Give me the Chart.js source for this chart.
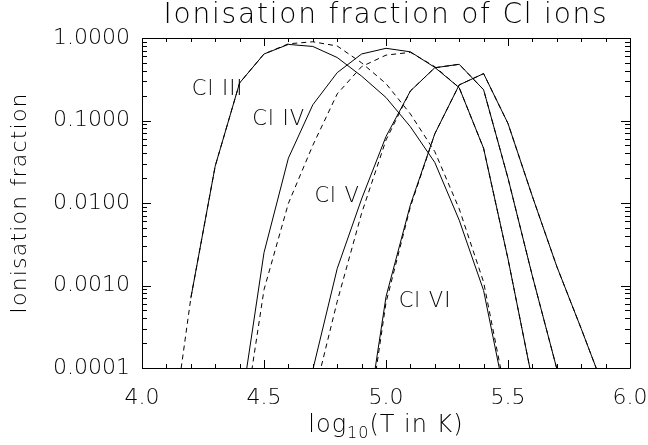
<!DOCTYPE html>
<html>
<head>
<meta charset="utf-8">
<title>Ionisation fraction of Cl ions</title>
<script src="https://cdn.jsdelivr.net/npm/chart.js@4.4.1/dist/chart.umd.min.js"></script>
<style>
  html, body { margin: 0; padding: 0; background: #fff; }
  canvas { display: block; }
</style>
</head>
<body>
<canvas id="ionChart" width="648" height="445"></canvas>
<script>
// Temperature grid (log10 T)
const logT = [4.0, 4.1, 4.2, 4.3, 4.4, 4.5, 4.6, 4.7, 4.8, 4.9, 5.0,
              5.1, 5.2, 5.3, 5.4, 5.5, 5.6, 5.7, 5.8, 5.9, 6.0];

// Solid curves
const cl3Solid = [null, null, 7.0e-4, 0.028, 0.285, 0.64, 0.836, 0.79, 0.58, 0.345, 0.19,
                  0.084, 0.031, 0.0062, 8.7e-4, 3e-5, null, null, null, null, null];
const cl4Solid = [null, null, null, null, 2.6e-5, 0.0025, 0.035, 0.155, 0.38, 0.64, 0.75,
                  0.68, 0.44, 0.25, 0.046, 0.0021, 7e-5, null, null, null, null];
const cl5Solid = [null, null, null, null, null, null, null, 9.5e-5, 0.0016, 0.0112, 0.064,
                  0.228, 0.436, 0.48, 0.236, 0.020, 0.0013, 9.8e-5, null, null, null];
const cl6Solid = [null, null, null, null, null, null, null, null, null, 8e-6, 7.3e-4,
                  0.0095, 0.069, 0.27, 0.37, 0.092, 0.012, 0.0017, 3e-4, 5e-5, null];

// Dashed curves
const cl3Dashed = [null, 5e-6, 7.0e-4, 0.028, 0.285, 0.64, 0.85, 0.90, 0.80, 0.50, 0.28,
                   0.12, 0.042, 0.0085, 0.0011, 3.5e-5, null, null, null, null, null];
const cl4Dashed = [null, null, null, null, 1e-5, 8.9e-4, 0.0099, 0.05, 0.21, 0.45, 0.62,
                   0.67, 0.45, 0.25, 0.046, 0.0021, 7e-5, null, null, null, null];
const cl5Dashed = [null, null, null, null, null, null, null, 4e-5, 6.4e-4, 0.0075, 0.058,
                   0.228, 0.436, 0.48, 0.236, 0.020, 0.0013, 9.8e-5, null, null, null];
const cl6Dashed = [null, null, null, null, null, null, null, null, null, 6e-6, 6.2e-4,
                   0.009, 0.069, 0.27, 0.37, 0.092, 0.012, 0.0017, 3e-4, 5e-5, null];

// Axis ticks
const xTickValues = [4.0, 4.5, 5.0, 5.5, 6.0];
const yTickValues = [0.0001, 0.001, 0.01, 0.1, 1];

// Ion labels, placed in data coordinates
const ionNames = ["Cl III", "Cl IV", "Cl V", "Cl VI"];
const ionLabelT = [4.31, 4.56, 4.80, 5.16];
const ionLabelY = [0.236, 0.102, 0.012, 0.00064];

const chartTitle = "Ionisation fraction of Cl ions";
const yTitle = "Ionisation fraction";

const FONT = "'DejaVu Sans', sans-serif";

function toPoints(values) {
  return logT.map(function (t, i) {
    return { x: t, y: values[i] };
  });
}

function lineSet(label, values, dashed) {
  return {
    label: label,
    data: toPoints(values),
    borderColor: "#000",
    borderWidth: 1,
    borderDash: dashed ? [5, 4] : [],
    pointRadius: 0,
    tension: 0,
    fill: false,
    spanGaps: false
  };
}

// IDL style box with inward ticks, titles and the ion labels
const frameAndLabels = {
  id: "frameAndLabels",
  afterDraw: function (chart) {
    const ctx = chart.ctx;
    const area = chart.chartArea;
    const xs = chart.scales.x;
    const ys = chart.scales.y;

    ctx.save();
    ctx.strokeStyle = "#000";
    ctx.lineWidth = 1;
    ctx.beginPath();
    ctx.rect(Math.round(area.left) + 0.5, Math.round(area.top) + 0.5,
             Math.round(area.right - area.left), Math.round(area.bottom - area.top));
    ctx.stroke();

    ctx.beginPath();
    // x ticks, every 0.1
    for (let k = 0; k <= 20; k++) {
      const v = 4 + k * 0.1;
      const px = Math.round(xs.getPixelForValue(v)) + 0.5;
      const len = (k % 5 === 0) ? 8 : 4;
      ctx.moveTo(px, area.bottom);
      ctx.lineTo(px, area.bottom - len);
      ctx.moveTo(px, area.top);
      ctx.lineTo(px, area.top + len);
    }
    // y ticks, log minor ticks
    for (let d = -4; d <= 0; d++) {
      for (let m = 1; m <= 9; m++) {
        const v = m * Math.pow(10, d);
        if (v > 1.0001) break;
        const py = Math.round(ys.getPixelForValue(v)) + 0.5;
        const len = (m === 1) ? 9 : 5;
        ctx.moveTo(area.left, py);
        ctx.lineTo(area.left + len, py);
        ctx.moveTo(area.right, py);
        ctx.lineTo(area.right - len, py);
      }
    }
    ctx.stroke();

    ctx.fillStyle = "#000";
    ctx.textBaseline = "middle";

    // ion labels
    ctx.font = "200 21px " + FONT;
    ctx.letterSpacing = "1px";
    ctx.textAlign = "center";
    ionNames.forEach(function (name, i) {
      ctx.fillText(name, xs.getPixelForValue(ionLabelT[i]), ys.getPixelForValue(ionLabelY[i]));
    });

    const midX = (area.left + area.right) / 2;
    const midY = (area.top + area.bottom) / 2;

    // main title
    ctx.font = "200 28px " + FONT;
    ctx.letterSpacing = "1.8px";
    ctx.fillText(chartTitle, midX, 16);

    // x axis title with subscript
    ctx.textAlign = "left";
    ctx.letterSpacing = "1px";
    ctx.font = "200 24px " + FONT;
    const part1 = "log";
    const part3 = "(T in K)";
    const w1 = ctx.measureText(part1).width;
    const w3 = ctx.measureText(part3).width;
    ctx.font = "200 16px " + FONT;
    const w2 = ctx.measureText("10").width;
    let x0 = midX - (w1 + w2 + w3) / 2;
    ctx.font = "200 24px " + FONT;
    ctx.fillText(part1, x0, 426);
    ctx.font = "200 16px " + FONT;
    ctx.fillText("10", x0 + w1, 434);
    ctx.font = "200 24px " + FONT;
    ctx.fillText(part3, x0 + w1 + w2, 426);

    // y axis title
    ctx.save();
    ctx.translate(20, midY);
    ctx.rotate(-Math.PI / 2);
    ctx.textAlign = "center";
    ctx.font = "200 22px " + FONT;
    ctx.letterSpacing = "1.2px";
    ctx.fillText(yTitle, 0, 0);
    ctx.restore();

    ctx.restore();
  }
};

new Chart(document.getElementById("ionChart"), {
  type: "line",
  data: {
    datasets: [
      lineSet("Cl III", cl3Solid, false),
      lineSet("Cl IV", cl4Solid, false),
      lineSet("Cl V", cl5Solid, false),
      lineSet("Cl VI", cl6Solid, false),
      lineSet("Cl III (dashed)", cl3Dashed, true),
      lineSet("Cl IV (dashed)", cl4Dashed, true),
      lineSet("Cl V (dashed)", cl5Dashed, true),
      lineSet("Cl VI (dashed)", cl6Dashed, true)
    ]
  },
  options: {
    responsive: false,
    animation: false,
    layout: { padding: { left: 0, right: 18, top: 38, bottom: 0 } },
    plugins: {
      legend: { display: false },
      tooltip: { enabled: false },
      title: { display: false }
    },
    scales: {
      x: {
        type: "linear",
        min: 4,
        max: 6,
        grid: { display: false, drawTicks: false },
        border: { display: false },
        afterBuildTicks: function (scale) {
          scale.ticks = xTickValues.map(function (v) { return { value: v }; });
        },
        afterFit: function (scale) {
          scale.height = 77;
          scale.paddingLeft = 0;
          scale.paddingRight = 0;
        },
        ticks: {
          color: "#000",
          padding: 17,
          maxRotation: 0,
          font: { family: FONT, size: 22, weight: "200" },
          callback: function (value) { return Number(value).toFixed(1); }
        }
      },
      y: {
        type: "logarithmic",
        min: 0.0001,
        max: 1,
        grid: { display: false, drawTicks: false },
        border: { display: false },
        afterBuildTicks: function (scale) {
          scale.ticks = yTickValues.map(function (v) { return { value: v }; });
        },
        afterFit: function (scale) {
          scale.width = 142;
          scale.paddingTop = 0;
          scale.paddingBottom = 0;
        },
        ticks: {
          color: "#000",
          padding: 12,
          font: { family: FONT, size: 22, weight: "200" },
          callback: function (value) { return Number(value).toFixed(4); }
        }
      }
    }
  },
  plugins: [frameAndLabels]
});
</script>
</body>
</html>
